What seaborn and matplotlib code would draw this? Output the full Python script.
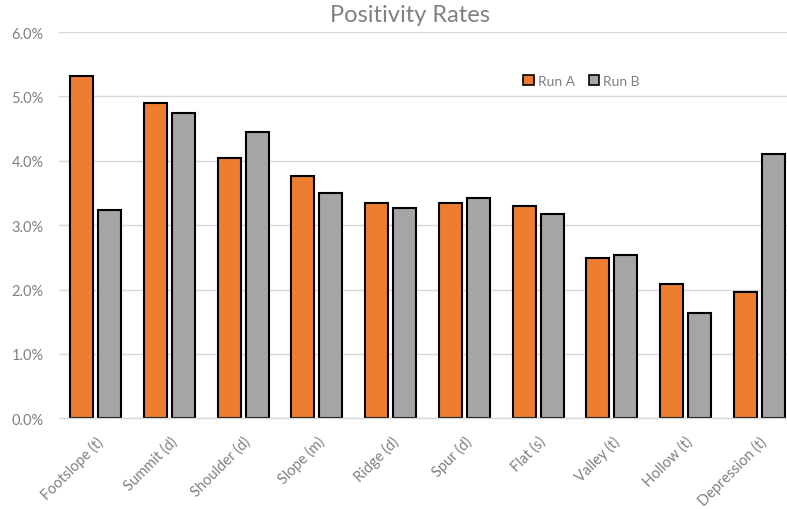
import matplotlib
matplotlib.use("Agg")
import matplotlib.pyplot as plt
import matplotlib.ticker as mticker
from matplotlib.patches import Patch
import pandas as pd
import seaborn as sns

categories = ["Footslope (t)", "Summit (d)", "Shoulder (d)", "Slope (m)", "Ridge (d)",
              "Spur (d)", "Flat (s)", "Valley (t)", "Hollow (t)", "Depression (t)"]
run_a = [5.32, 4.90, 4.04, 3.76, 3.34, 3.34, 3.30, 2.49, 2.09, 1.96]
run_b = [3.24, 4.74, 4.45, 3.50, 3.26, 3.42, 3.18, 2.53, 1.63, 4.10]
series = ["Run A", "Run B"]
y_ticks = [0, 1, 2, 3, 4, 5, 6]

df = pd.DataFrame({
    "category": categories * 2,
    "run": [series[0]] * len(categories) + [series[1]] * len(categories),
    "rate": run_a + run_b,
})

sns.set_theme(style="white")
plt.rcParams["font.family"] = ["Lato", "DejaVu Sans"]

palette = {"Run A": "#ED7D31", "Run B": "#A5A5A5"}
text_grey = "#808080"

fig = plt.figure(figsize=(7.87, 5.10), dpi=100)
ax = fig.add_axes([0.075, 0.178, 1.0114 - 0.075, 0.935 - 0.178])

sns.barplot(data=df, x="category", y="rate", hue="run", palette=palette,
            order=categories, hue_order=series, width=0.76, gap=0.18,
            edgecolor="black", linewidth=1.5, saturation=1, legend=False, ax=ax)

ax.set_ylim(0, 6)
ax.set_yticks(y_ticks)
ax.yaxis.set_major_formatter(mticker.FuncFormatter(lambda v, _: f"{v:.1f}%"))
ax.grid(axis="y", color="#D9D9D9", linewidth=1)
ax.set_axisbelow(True)
for side in ["left", "right", "top"]:
    ax.spines[side].set_visible(False)
ax.spines["bottom"].set_color("#D9D9D9")
ax.spines["bottom"].set_linewidth(1)

ax.set_xlabel("")
ax.set_ylabel("")
ax.tick_params(axis="y", length=0, pad=11, labelsize=10.5, labelcolor=text_grey)
ax.tick_params(axis="x", length=0, pad=11, labelsize=10.5, labelcolor=text_grey)
for lab in ax.get_xticklabels():
    lab.set_rotation(45)
    lab.set_ha("right")
    lab.set_rotation_mode("anchor")

fig.suptitle("Positivity Rates", x=0.521, y=0.99, va="top",
             fontsize=17, color=text_grey)

handles = [Patch(facecolor=palette[s], edgecolor="black", linewidth=1.2, label=s)
           for s in series]
fig.legend(handles=handles, loc="center", bbox_to_anchor=(0.739, 0.839), ncol=2,
           frameon=False, fontsize=10, labelcolor=text_grey,
           handlelength=0.75, handleheight=0.75, handletextpad=0.3, columnspacing=1.0)

fig.savefig("out.png", dpi=100)
